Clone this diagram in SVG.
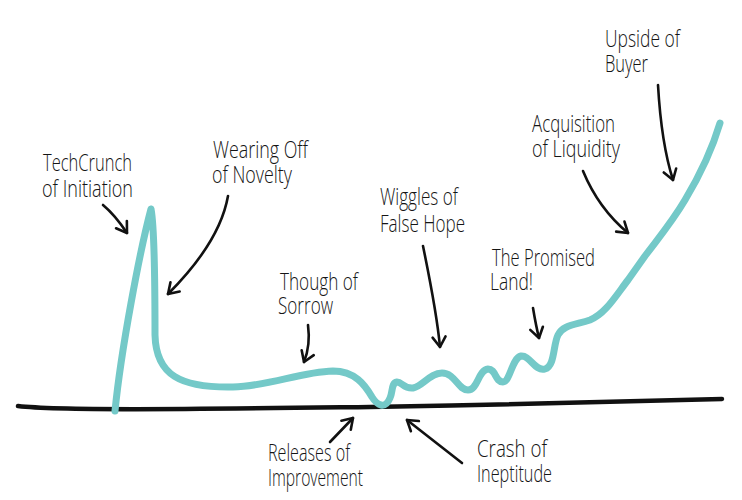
<svg xmlns="http://www.w3.org/2000/svg" width="742" height="500" viewBox="0 0 742 500">
<style>
.lbl{font-family:"Open Sans","DejaVu Sans Condensed","Liberation Sans",sans-serif;font-weight:300;font-size:24px;fill:#151515;}
.arr{fill:none;stroke:#111;stroke-width:2.6;stroke-linecap:round;marker-end:url(#ah);}
</style>
<defs>
<marker id="ah" markerUnits="userSpaceOnUse" markerWidth="30" markerHeight="30" refX="0" refY="0" viewBox="-15 -15 30 30" orient="auto">
<path d="M-10,-6.5 L0,0 L-10,6.5" fill="none" stroke="#111" stroke-width="2.6" stroke-linecap="round" stroke-linejoin="round"/>
</marker>
</defs>
<rect width="742" height="500" fill="#fff"/>
<g id="axis">
<path d="M18,406 C60,411 200,409 370,407 C500,405 650,401 722,399" fill="none" stroke="#111" stroke-width="4.5" stroke-linecap="round"/>
</g>
<g id="curve">
<path d="M115,411 C121,350 140,250 151,209 C155,230 155,300 155,335 C156,375 180,388 233,387 C270,386 300,372 333,371 C355,371 365,385 372,397 C377,405 385,410 390,398 C393,392 391,383 397,382 C402,382 404,389 413,388 C423,386 430,373 442,373 C455,373 458,390 468,390 C478,390 478,370 488,369 C496,369 495,382 503,382 C510,382 512,358 521,356 C530,355 535,372 545,369 C555,366 553,345 558,335 C563,325 575,325 590,320 C605,314 615,297 628,280 L645,256 C660,236 672,222 685,200 C697,180 712,150 720,123" fill="none" stroke="#74C9C8" stroke-width="7" stroke-linecap="round" stroke-linejoin="round"/>
</g>
<g id="connectors">
<path class="arr" d="M103,205 Q115,215 127,233"/>
<path class="arr" d="M228,196 C222,230 200,262 168,294"/>
<path class="arr" d="M308,325 C310,340 308,352 304,362"/>
<path class="arr" d="M423,246 C430,280 437,315 440,347"/>
<path class="arr" d="M533,308 C535,320 537,330 539,338"/>
<path class="arr" d="M583,171 C595,200 610,218 628,233"/>
<path class="arr" d="M658,85 C660,120 665,155 673,180"/>
<path class="arr" d="M330,442 L353,418"/>
<path class="arr" d="M462,463 L407,420"/>
</g>
<g id="techcrunch">
<text class="lbl" x="43" y="171" textLength="89" lengthAdjust="spacingAndGlyphs">TechCrunch</text>
<text class="lbl" x="42" y="197" textLength="91" lengthAdjust="spacingAndGlyphs">of Initiation</text>
</g>
<g id="wearing">
<text class="lbl" x="213" y="158" textLength="95" lengthAdjust="spacingAndGlyphs">Wearing Off</text>
<text class="lbl" x="212" y="183" textLength="80" lengthAdjust="spacingAndGlyphs">of Novelty</text>
</g>
<g id="though">
<text class="lbl" x="280" y="290" textLength="78" lengthAdjust="spacingAndGlyphs">Though of</text>
<text class="lbl" x="278" y="314" textLength="55" lengthAdjust="spacingAndGlyphs">Sorrow</text>
</g>
<g id="wiggles">
<text class="lbl" x="380" y="205" textLength="78" lengthAdjust="spacingAndGlyphs">Wiggles of</text>
<text class="lbl" x="380" y="232" textLength="85" lengthAdjust="spacingAndGlyphs">False Hope</text>
</g>
<g id="promised">
<text class="lbl" x="492" y="266" textLength="103" lengthAdjust="spacingAndGlyphs">The Promised</text>
<text class="lbl" x="490" y="290" textLength="43" lengthAdjust="spacingAndGlyphs">Land!</text>
</g>
<g id="acquisition">
<text class="lbl" x="532" y="132" textLength="83" lengthAdjust="spacingAndGlyphs">Acquisition</text>
<text class="lbl" x="532" y="157" textLength="88" lengthAdjust="spacingAndGlyphs">of Liquidity</text>
</g>
<g id="upside">
<text class="lbl" x="605" y="47" textLength="75" lengthAdjust="spacingAndGlyphs">Upside of</text>
<text class="lbl" x="605" y="72" textLength="43" lengthAdjust="spacingAndGlyphs">Buyer</text>
</g>
<g id="releases">
<text class="lbl" x="268" y="461" textLength="82" lengthAdjust="spacingAndGlyphs">Releases of</text>
<text class="lbl" x="268" y="486" textLength="95" lengthAdjust="spacingAndGlyphs">Improvement</text>
</g>
<g id="crash">
<text class="lbl" x="477" y="457" textLength="70" lengthAdjust="spacingAndGlyphs">Crash of</text>
<text class="lbl" x="477" y="482" textLength="75" lengthAdjust="spacingAndGlyphs">Ineptitude</text>
</g>
</svg>
